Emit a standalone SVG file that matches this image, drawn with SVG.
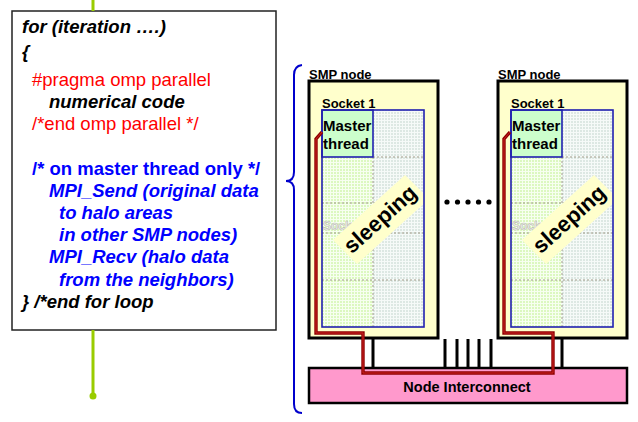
<svg xmlns="http://www.w3.org/2000/svg" width="638" height="422" viewBox="0 0 638 422">
<style>
.code{font-family:"Liberation Sans",Arial,sans-serif;font-size:18.5px;}
.bi{font-weight:bold;font-style:italic;}
.b{font-weight:bold;}
.blk{fill:#000;}
.red{fill:#ff0000;}
.blu{fill:#0000ff;}
.lbl{font-family:"Liberation Sans",Arial,sans-serif;font-size:13px;font-weight:bold;fill:#000;}
.mt{font-family:"Liberation Sans",Arial,sans-serif;font-size:15px;font-weight:bold;fill:#000;}
.ghost{font-family:"Liberation Sans",Arial,sans-serif;font-size:12px;font-weight:bold;fill:#f4f4f0;stroke:#b8b8b0;stroke-width:0.6;}
.node{fill:#ffffcc;stroke:#000;stroke-width:3;}
.sock{fill:none;stroke:#2020b0;stroke-width:1.6;}
.dash{stroke:#a09a88;stroke-width:1;stroke-dasharray:2 2;fill:none;}
.band{fill:#ffffcc;}
.sleep{font-family:"Liberation Sans",Arial,sans-serif;font-size:22px;font-weight:bold;fill:#000;}
.link{stroke:#000;stroke-width:3;}
</style>
<defs>
<pattern id="gridG" width="3" height="3" patternUnits="userSpaceOnUse">
<rect width="3" height="3" fill="#dcf8c0"/>
<path d="M0 0.5H3M0.5 0V3" stroke="#f7fff0" stroke-width="1"/>
</pattern>
<pattern id="gridB" width="3" height="3" patternUnits="userSpaceOnUse">
<rect width="3" height="3" fill="#dde8e3"/>
<path d="M0 0.5H3M0.5 0V3" stroke="#f6faf8" stroke-width="1"/>
</pattern>
<clipPath id="sockClip"><rect x="322" y="110" width="102" height="217"/></clipPath>
<g id="nodeBody">
<rect x="309" y="81" width="129" height="257" class="node"/>
<text x="309" y="79" class="lbl">SMP node</text>
<text x="322" y="108" class="lbl">Socket 1</text>
<rect x="322" y="110" width="51" height="217" fill="url(#gridG)"/>
<rect x="373" y="110" width="51" height="217" fill="url(#gridB)"/>
<path class="dash" d="M373 157V327M373 157H424M322 203H424M322 233H424M322 280H424"/>
<text x="323" y="230" class="ghost">Socket 2</text>
<g clip-path="url(#sockClip)">
<polygon class="band" points="405,175 429,199 357,264 333,240"/>
</g>
<text x="380" y="219" class="sleep" text-anchor="middle" dominant-baseline="central" transform="rotate(-42 380 219)">sleeping</text>
<rect x="322" y="110" width="51" height="47" fill="#ccffcc" stroke="#2020b0" stroke-width="1.6"/>
<text x="323" y="131" class="mt">Master</text>
<text x="323" y="149" class="mt">thread</text>
<rect x="322" y="110" width="102" height="217" class="sock"/>
</g>
</defs>

<g id="code-box">
<rect x="12" y="11" width="264" height="319" fill="#fff" stroke="#222" stroke-width="1.5"/>
<text class="code bi blk" x="22" y="33">for (iteration ….)</text>
<text class="code bi blk" x="22" y="58">{</text>
<text class="code red" x="32" y="86">#pragma omp parallel</text>
<text class="code bi blk" x="49" y="108">numerical code</text>
<text class="code red" x="32" y="130">/*end omp parallel */</text>
<text class="code b blu" x="32" y="175">/* on master thread only */</text>
<text class="code bi blu" x="49" y="197">MPI_Send (original data</text>
<text class="code bi blu" x="59" y="219">to halo areas</text>
<text class="code bi blu" x="59" y="241">in other SMP nodes)</text>
<text class="code bi blu" x="49" y="263">MPI_Recv (halo data</text>
<text class="code bi blu" x="59" y="286">from the neighbors)</text>
<text class="code bi blk" x="22" y="308">} /*end for loop</text>
</g>

<g id="brace">
<path d="M302,65 Q294,66 294,75 L294,172 Q294,181 286,181 Q294,181 294,190 L294,404 Q294,413 302,413" fill="none" stroke="#0000cc" stroke-width="2"/>
</g>

<g id="smp-node-1">
<use href="#nodeBody"/>
</g>

<g id="smp-node-2">
<use href="#nodeBody" transform="translate(189,0)"/>
</g>

<g id="ellipsis" fill="#000">
<circle cx="447" cy="202" r="2.6"/>
<circle cx="457.5" cy="202" r="2.6"/>
<circle cx="468" cy="202" r="2.6"/>
<circle cx="478.5" cy="202" r="2.6"/>
<circle cx="489" cy="202" r="2.6"/>
</g>

<g id="interconnect">
<rect x="309" y="368" width="318" height="35" fill="#ff99cc" stroke="#000" stroke-width="2.5"/>
<text x="467" y="392" class="mt" text-anchor="middle" style="font-size:14.5px">Node Interconnect</text>
</g>

<g id="connectors">
<path d="M93 0V11M93 330V396" stroke="#99cc00" stroke-width="3" fill="none"/>
<circle cx="93" cy="396" r="3.5" fill="#99cc00"/>
<path class="link" d="M373 339V368M562 339V368M445 339V368M457 339V368M468 339V368M479 339V368M491 339V368"/>
<path d="M322,132 L316,139 L316,333 L363,333 L363,373 L553,373 L553,333 L504,333 L504,139 L510,132" fill="none" stroke="#8e0000" stroke-width="3.4" stroke-linejoin="miter"/>
<path d="M322,132 L316,139 L316,333 L363,333 L363,373 L553,373 L553,333 L504,333 L504,139 L510,132" fill="none" stroke="#cc2222" stroke-width="1"/>
</g>
</svg>
